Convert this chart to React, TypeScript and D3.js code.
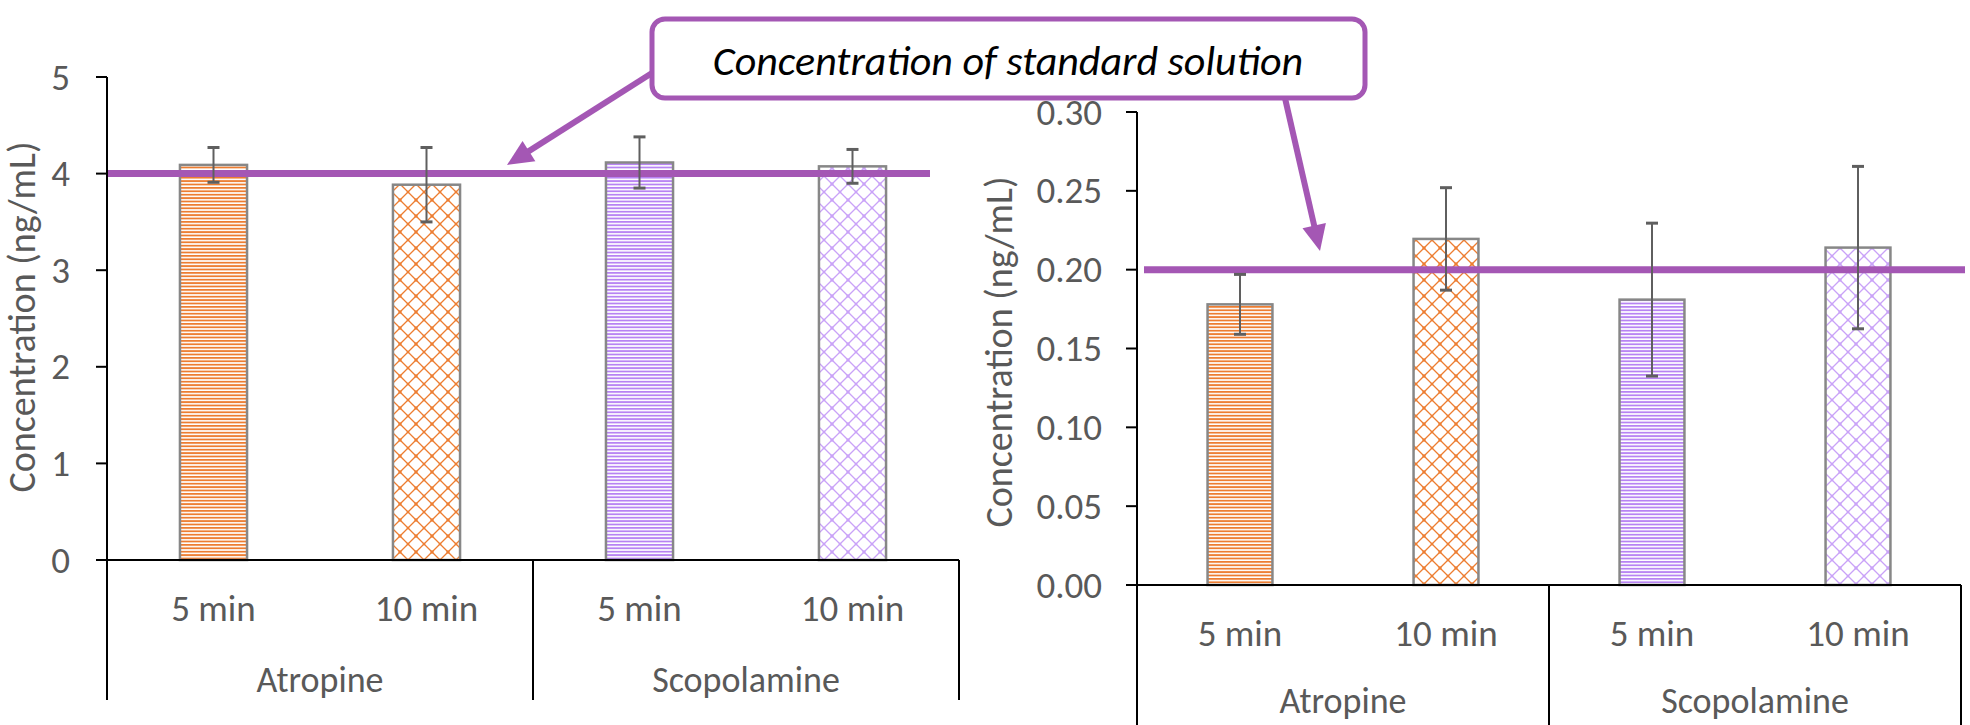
import React, { useEffect, useRef } from 'react';
import * as d3 from 'd3';

const W = 1970;
const H = 725;
const FONT = "Carlito, Calibri, Lato, sans-serif";
const TEXT_COLOR = '#595959';
const PURPLE = '#A457B4';
const ORANGE = '#ED7D31';
const VIOLET = '#B783F3';
const VIOLET_LIGHT = '#C9A2F8';

// categories
const groups = ['Atropine', 'Scopolamine'];
const times = ['5 min', '10 min'];
const barFills = ['hOrange', 'xOrange', 'hViolet', 'xViolet'];

// left panel (ng/mL)
const highConc = [4.09, 3.885, 4.115, 4.075];
const highErr = [0.18, 0.385, 0.265, 0.175];
const highTicks = [0, 1, 2, 3, 4, 5];
const highStandard = 4;

// right panel (ng/mL)
const lowConc = [0.178, 0.2195, 0.181, 0.214];
const lowErr = [0.019, 0.0325, 0.0485, 0.0515];
const lowTicks = [0, 0.05, 0.1, 0.15, 0.2, 0.25, 0.3];
const lowStandard = 0.2;

const yTitle = 'Concentration (ng/mL)';
const noteText = 'Concentration of standard solution';

type Panel = {
  left: number; right: number; top: number; bottom: number; max: number;
  ticks: number[]; fmt: (v: number) => string; values: number[]; errors: number[];
  std: number; lineFrom: number; lineTo: number; labelX: number;
  titleX: number; titleY: number; subY: number; groupY: number; sepBottom: number;
};

function drawPanel(svg: any, p: Panel) {
  const cats = groups.flatMap(g => times.map(t => `${g}|${t}`));
  const x = d3.scaleBand().domain(cats).range([p.left, p.right]);
  const y = d3.scaleLinear().domain([0, p.max]).range([p.bottom, p.top]);
  const bw = x.bandwidth() * 0.315;
  const cx = (i: number) => (x(cats[i]) as number) + x.bandwidth() / 2;
  const g = svg.append('g');

  // bars
  g.selectAll('rect.bar').data(p.values).join('rect')
    .attr('class', 'bar')
    .attr('x', (_: number, i: number) => cx(i) - bw / 2)
    .attr('y', (d: number) => y(d))
    .attr('width', bw)
    .attr('height', (d: number) => y(0) - y(d))
    .attr('fill', (_: number, i: number) => `url(#${barFills[i]})`)
    .attr('stroke', '#878787')
    .attr('stroke-width', 2.5);

  // standard line
  g.append('line')
    .attr('x1', p.lineFrom).attr('x2', p.lineTo)
    .attr('y1', y(p.std)).attr('y2', y(p.std))
    .attr('stroke', PURPLE).attr('stroke-width', 7);

  // error bars
  p.values.forEach((v, i) => {
    const hi = y(v + p.errors[i]);
    const lo = y(v - p.errors[i]);
    const eb = g.append('g').attr('stroke', '#5f5f5f').attr('stroke-width', 2);
    eb.append('line').attr('x1', cx(i)).attr('x2', cx(i)).attr('y1', hi).attr('y2', lo);
    eb.append('line').attr('x1', cx(i) - 6).attr('x2', cx(i) + 6).attr('y1', hi).attr('y2', hi).attr('stroke-width', 3);
    eb.append('line').attr('x1', cx(i) - 6).attr('x2', cx(i) + 6).attr('y1', lo).attr('y2', lo).attr('stroke-width', 3);
  });

  // y axis
  g.append('line')
    .attr('x1', p.left).attr('x2', p.left)
    .attr('y1', y(p.max)).attr('y2', p.sepBottom)
    .attr('stroke', '#000').attr('stroke-width', 2);
  p.ticks.forEach(t => {
    g.append('line')
      .attr('x1', p.left - 11).attr('x2', p.left)
      .attr('y1', y(t)).attr('y2', y(t))
      .attr('stroke', '#000').attr('stroke-width', 2);
    g.append('text')
      .attr('x', p.labelX).attr('y', y(t))
      .attr('text-anchor', 'end').attr('dominant-baseline', 'central')
      .attr('fill', TEXT_COLOR).attr('font-size', 37)
      .text(p.fmt(t));
  });

  // x axis + group separators
  g.append('line')
    .attr('x1', p.left).attr('x2', p.right)
    .attr('y1', y(0)).attr('y2', y(0))
    .attr('stroke', '#000').attr('stroke-width', 2);
  const mid = (p.left + p.right) / 2;
  [mid, p.right].forEach(sx => {
    g.append('line')
      .attr('x1', sx).attr('x2', sx)
      .attr('y1', y(0)).attr('y2', p.sepBottom)
      .attr('stroke', '#000').attr('stroke-width', 2);
  });

  cats.forEach((c, i) => {
    g.append('text')
      .attr('x', cx(i)).attr('y', p.subY)
      .attr('text-anchor', 'middle').attr('dominant-baseline', 'central')
      .attr('fill', TEXT_COLOR).attr('font-size', 37)
      .text(c.split('|')[1]);
  });
  groups.forEach((gr, i) => {
    g.append('text')
      .attr('x', (cx(i * 2) + cx(i * 2 + 1)) / 2).attr('y', p.groupY)
      .attr('text-anchor', 'middle').attr('dominant-baseline', 'central')
      .attr('fill', TEXT_COLOR).attr('font-size', 36)
      .text(gr);
  });

  g.append('text')
    .attr('transform', `translate(${p.titleX},${p.titleY}) rotate(-90)`)
    .attr('text-anchor', 'middle')
    .attr('fill', TEXT_COLOR).attr('font-size', 38)
    .text(yTitle);
}

function arrow(svg: any, x1: number, y1: number, x2: number, y2: number) {
  const dx = x2 - x1, dy = y2 - y1;
  const len = Math.hypot(dx, dy);
  const ux = dx / len, uy = dy / len;
  const head = 26, half = 12;
  const bx = x2 - ux * head, by = y2 - uy * head;
  svg.append('line')
    .attr('x1', x1).attr('y1', y1).attr('x2', bx + ux * 2).attr('y2', by + uy * 2)
    .attr('stroke', PURPLE).attr('stroke-width', 6);
  svg.append('polygon')
    .attr('points', [[x2, y2], [bx - uy * half, by + ux * half], [bx + uy * half, by - ux * half]].map(q => q.join(',')).join(' '))
    .attr('fill', PURPLE);
}

const App = () => {
  const svgRef = useRef<SVGSVGElement>(null);

  useEffect(() => {
    if (!svgRef.current) return;
    const svg = d3.select(svgRef.current);
    svg.selectAll('*').remove();
    svg.attr('width', W).attr('height', H).style('font-family', FONT);

    // fill patterns
    const defs = svg.append('defs');
    const hPat = (id: string, color: string) => {
      const pt = defs.append('pattern').attr('id', id).attr('patternUnits', 'userSpaceOnUse')
        .attr('width', 8).attr('height', 3.4);
      pt.append('rect').attr('width', 8).attr('height', 3.4).attr('fill', '#fff');
      pt.append('rect').attr('width', 8).attr('height', 1.8).attr('fill', color);
    };
    const xPat = (id: string, color: string) => {
      const pt = defs.append('pattern').attr('id', id).attr('patternUnits', 'userSpaceOnUse')
        .attr('width', 16).attr('height', 16);
      pt.append('rect').attr('width', 16).attr('height', 16).attr('fill', '#fff');
      pt.append('path').attr('d', 'M0,8 L8,0 L16,8 L8,16 Z')
        .attr('fill', 'none').attr('stroke', color).attr('stroke-width', 1.3);
      pt.append('rect').attr('x', -1.5).attr('y', 6.5).attr('width', 3).attr('height', 3).attr('fill', color);
      pt.append('rect').attr('x', 14.5).attr('y', 6.5).attr('width', 3).attr('height', 3).attr('fill', color);
      pt.append('rect').attr('x', 6.8).attr('y', -1.2).attr('width', 2.4).attr('height', 2.4).attr('fill', color);
      pt.append('rect').attr('x', 6.8).attr('y', 14.8).attr('width', 2.4).attr('height', 2.4).attr('fill', color);
    };
    hPat('hOrange', ORANGE);
    xPat('xOrange', ORANGE);
    hPat('hViolet', VIOLET);
    xPat('xViolet', VIOLET_LIGHT);

    drawPanel(svg, {
      left: 107, right: 959, top: 77, bottom: 560, max: 5,
      ticks: highTicks, fmt: d3.format('d'), values: highConc, errors: highErr,
      std: highStandard, lineFrom: 107, lineTo: 930, labelX: 70,
      titleX: 35, titleY: 317, subY: 608, groupY: 680, sepBottom: 700,
    });
    drawPanel(svg, {
      left: 1137, right: 1961, top: 112, bottom: 585, max: 0.3,
      ticks: lowTicks, fmt: d3.format('.2f'), values: lowConc, errors: lowErr,
      std: lowStandard, lineFrom: 1144, lineTo: 1965, labelX: 1102,
      titleX: 1012, titleY: 352, subY: 633, groupY: 701, sepBottom: 725,
    });

    // callout
    arrow(svg, 652, 73, 507, 165);
    arrow(svg, 1282, 85, 1320, 251);
    svg.append('rect')
      .attr('x', 652).attr('y', 19).attr('width', 713).attr('height', 79).attr('rx', 13)
      .attr('fill', '#fff').attr('stroke', PURPLE).attr('stroke-width', 5);
    svg.append('text')
      .attr('x', 1008).attr('y', 60)
      .attr('text-anchor', 'middle').attr('dominant-baseline', 'central')
      .attr('font-style', 'italic').attr('font-size', 42).attr('fill', '#000')
      .text(noteText);
  }, []);

  return (
    <div style={{ position: 'absolute', left: 0, top: 0, width: W, height: H, background: '#fff', overflow: 'hidden' }}>
      <svg ref={svgRef}></svg>
    </div>
  );
};

export default App;
